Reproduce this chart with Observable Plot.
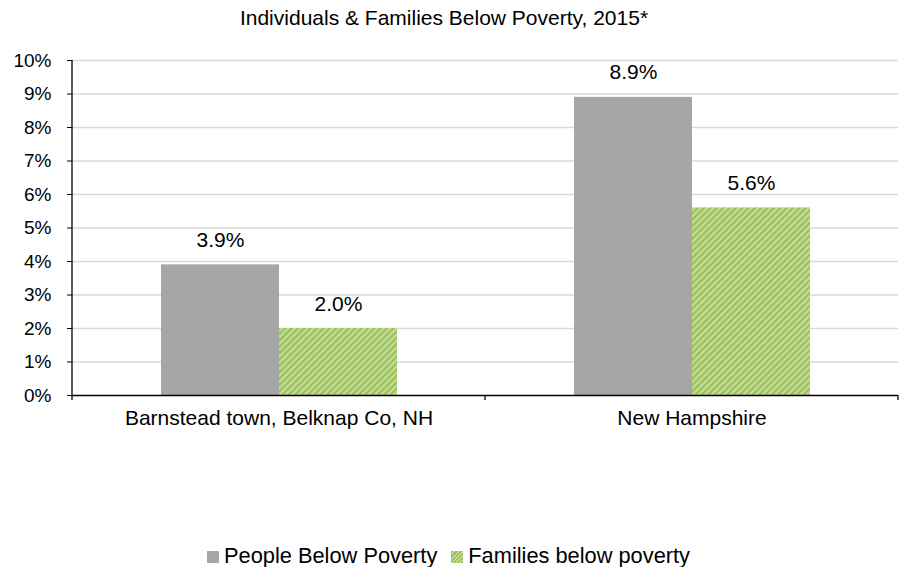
<!DOCTYPE html>
<html>
<head>
<meta charset="utf-8">
<script src="https://cdn.jsdelivr.net/npm/d3@7"></script>
<script src="https://cdn.jsdelivr.net/npm/@observablehq/plot@0.6"></script>
<style>
  body { margin: 0; background: #fff; font-family: "Liberation Sans", Arial, sans-serif; }
  #wrap { position: relative; width: 906px; height: 567px; overflow: hidden; background: #fff; }
  #chart { position: absolute; top: 0; left: 0; }
  #title { position: absolute; top: 5px; left: 0; width: 888px; text-align: center; font-size: 21px; line-height: 26px; color: #000; }
  #legend { position: absolute; top: 542px; left: 0; width: 897px; text-align: center; font-size: 21.8px; line-height: 26px; color: #000; white-space: nowrap; }
  #legend span.item { display: inline-flex; align-items: center; margin: 0 7px; }
  #legend span.sw { display: inline-block; width: 12px; height: 12px; margin-right: 5px; position: relative; top: 1px; }
</style>
</head>
<body>
<div id="wrap">
  <div id="chart"></div>
  <div id="title">Individuals &amp; Families Below Poverty, 2015*</div>
  <div id="legend"></div>
</div>
<script>
const categories = ["Barnstead town, Belknap Co, NH", "New Hampshire"];
const seriesNames = ["People Below Poverty", "Families below poverty"];
const peopleValues = [0.039, 0.089];
const familyValues = [0.020, 0.056];
const yTicks = [0, 0.01, 0.02, 0.03, 0.04, 0.05, 0.06, 0.07, 0.08, 0.09, 0.10];

const data = [];
categories.forEach((c, i) => {
  data.push({category: c, series: seriesNames[0], value: peopleValues[i]});
  data.push({category: c, series: seriesNames[1], value: familyValues[i]});
});

const fillFor = s => s === seriesNames[0] ? "#a6a6a6" : "url(#greenStripes)";

const chart = Plot.plot({
  width: 906,
  height: 440,
  marginTop: 60,
  marginBottom: 45,
  marginLeft: 71,
  marginRight: 8,
  style: {fontFamily: "'Liberation Sans', Arial, sans-serif", fontSize: "21px", color: "#000", background: "transparent"},
  fx: {domain: categories, padding: 0, label: null},
  x: {domain: seriesNames, paddingInner: 0, paddingOuter: 0.745, axis: null},
  y: {domain: [0, 0.10], ticks: yTicks, label: null},
  marks: [
    Plot.gridY(yTicks.filter(d => d > 0), {stroke: "#d9d9d9", strokeOpacity: 1, strokeWidth: 1.3}),
    Plot.barY(data, {fx: "category", x: "series", y: "value", fill: d => fillFor(d.series), inset: 0}),
    Plot.text(data, {fx: "category", x: "series", y: "value", text: d => (d.value * 100).toFixed(1) + "%", lineAnchor: "bottom", dy: -18, fontSize: 21, fill: "#000"}),
    Plot.axisY({ticks: yTicks, tickFormat: d => Math.round(d * 100) + "%", tickSize: 5, tickPadding: 16, fontSize: 19, label: null, stroke: "#000"}),
    Plot.axisFx({anchor: "bottom", tickSize: 0, tickPadding: 15, fontSize: 21, label: null}),
    Plot.ruleY([0], {stroke: "#000", strokeWidth: 1.3})
  ]
});

// pattern definition for green stripes
const svg = d3.select(chart);
const defs = svg.insert("defs", ":first-child");
const pat = defs.append("pattern")
  .attr("id", "greenStripes")
  .attr("patternUnits", "userSpaceOnUse")
  .attr("width", 4.5).attr("height", 4.5)
  .attr("patternTransform", "rotate(45)");
pat.append("rect").attr("width", 4.5).attr("height", 4.5).attr("fill", "#c3dc98");
pat.append("rect").attr("width", 2.2).attr("height", 4.5).attr("fill", "#9bc05a");

// y axis line and category separator ticks using the scales
const fx = chart.scale("fx");
const yS = chart.scale("y");
const y0 = yS.apply(0), y1 = yS.apply(0.10);
const left = fx.apply(categories[0]);
const bw = fx.bandwidth;
svg.append("line").attr("x1", left).attr("x2", left).attr("y1", y1).attr("y2", y0).attr("stroke", "#000").attr("stroke-width", 1.3);
const seps = [left, fx.apply(categories[1]), fx.apply(categories[1]) + bw];
seps.forEach(x => svg.append("line").attr("x1", x).attr("x2", x).attr("y1", y0).attr("y2", y0 + 5).attr("stroke", "#000").attr("stroke-width", 1.3));

document.getElementById("chart").appendChild(chart);

// legend
const legend = d3.select("#legend");
const swFill = ["#a6a6a6", "repeating-linear-gradient(-45deg, #9bc05a 0px, #9bc05a 1.5px, #c3dc98 1.5px, #c3dc98 3px)"];
seriesNames.forEach((s, i) => {
  const it = legend.append("span").attr("class", "item");
  it.append("span").attr("class", "sw").style("background", swFill[i]);
  it.append("span").text(s);
});
</script>
</body>
</html>
